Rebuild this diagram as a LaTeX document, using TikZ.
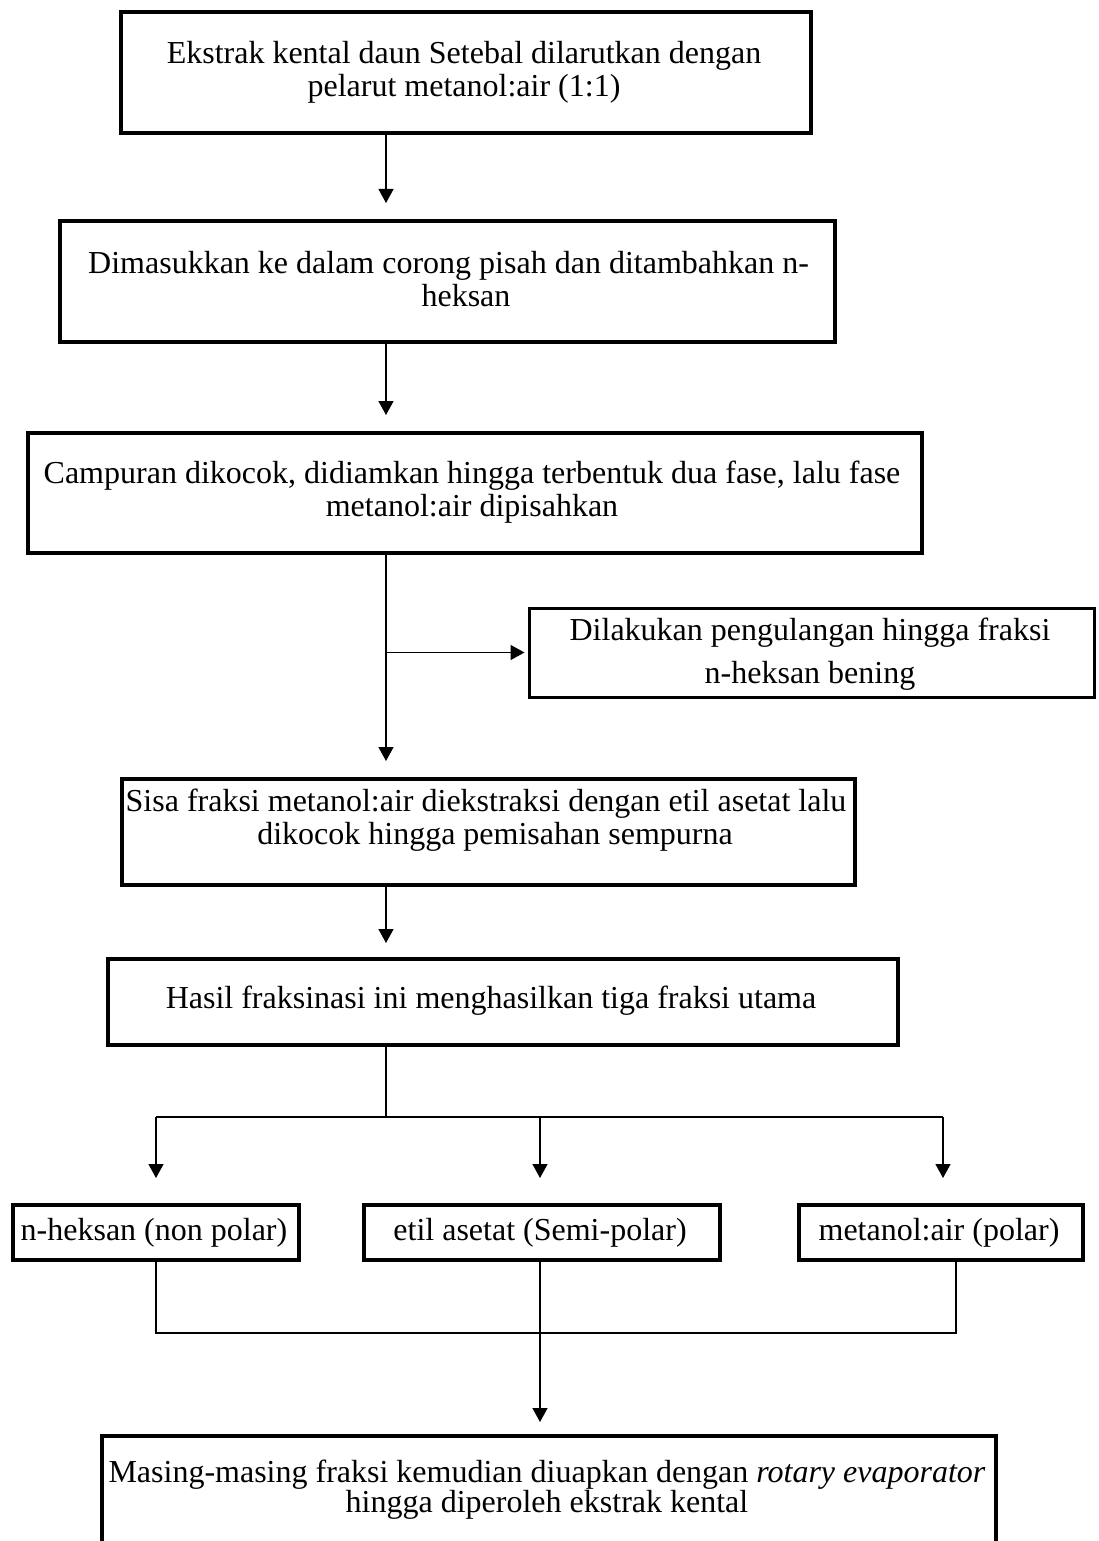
\documentclass[tikz,border=0pt]{standalone}
\usepackage{fontspec}
\setmainfont{Liberation Serif}
\usetikzlibrary{arrows.meta}
\begin{document}
\begin{tikzpicture}[x=1pt,y=-1pt,
  box/.style={draw=black, line width=4pt, inner sep=0pt, anchor=north west},
  sbox/.style={box, line width=3pt},
  txt/.style={anchor=base, inner sep=0pt, font=\fontsize{32}{36}\selectfont},
  conn/.style={line width=1.3pt},
  arr/.style={conn, -{Triangle[length=14pt,width=15pt]}},
]
\useasboundingbox (0,0) rectangle (1098,1541);
\clip (0,0) rectangle (1098,1541);
\fill[white] (0,0) rectangle (1098,1541);
% boxes
\node[box, minimum width=690pt, minimum height=121pt] (b1) at (119,10) {};
\node[box, minimum width=775pt, minimum height=121pt] (b2) at (58,219) {};
\node[box, minimum width=894pt, minimum height=120pt] (b3) at (26,431) {};
\node[sbox, minimum width=565pt, minimum height=89pt] (sb) at (527.5,606.5) {};
\node[box, minimum width=733pt, minimum height=106pt] (b4) at (120,777) {};
\node[box, minimum width=790pt, minimum height=86pt] (b5) at (106,957) {};
\node[box, minimum width=286pt, minimum height=55pt] (n1) at (11,1203) {};
\node[box, minimum width=356pt, minimum height=55pt] (n2) at (362,1203) {};
\node[box, minimum width=284pt, minimum height=55pt] (n3) at (797,1203) {};
\node[box, minimum width=894pt, minimum height=136pt] (fin) at (100,1434) {};
% texts
\node[txt] (t1a) at (464,64) {Ekstrak kental daun Setebal dilarutkan dengan};
\node[txt] (t1b) at (464,97) {pelarut metanol:air (1:1)};
\node[txt, anchor=base west] (t2a) at (88,273) {Dimasukkan ke dalam corong pisah dan ditambahkan n-};
\node[txt] (t2b) at (466,306) {heksan};
\node[txt] (t3a) at (472,483) {Campuran dikocok, didiamkan hingga terbentuk dua fase, lalu fase};
\node[txt] (t3b) at (472,516) {metanol:air dipisahkan};
\node[txt] (tsa) at (810,640) {Dilakukan pengulangan hingga fraksi};
\node[txt] (tsb) at (810,683) {n-heksan bening};
\node[txt] (t4a) at (486,811) {Sisa fraksi metanol:air diekstraksi dengan etil asetat lalu};
\node[txt] (t4b) at (495,844) {dikocok hingga pemisahan sempurna};
\node[txt] (t5) at (491,1008) {Hasil fraksinasi ini menghasilkan tiga fraksi utama};
\node[txt] (tn1) at (154,1240) {n-heksan (non polar)};
\node[txt] (tn2) at (540,1240) {etil asetat (Semi-polar)};
\node[txt] (tn3) at (939,1240) {metanol:air (polar)};
\node[txt] (tfa) at (547,1482) {Masing-masing fraksi kemudian diuapkan dengan \textit{rotary evaporator}};
\node[txt] (tfb) at (547,1512) {hingga diperoleh ekstrak kental};
% connector coordinates
\coordinate (sx) at (386,0);
\coordinate (bl) at (156,1117);
\coordinate (bm) at (540,1117);
\coordinate (bR) at (943,1117);
\coordinate (cl) at (156,1333);
\coordinate (cr) at (956,1333);
% connectors
\draw[arr, shorten >=16pt] (b1.south -| sx) -- (b2.north -| sx);
\draw[arr, shorten >=16pt] (b2.south -| sx) -- (b3.north -| sx);
\draw[arr, shorten >=16pt] (b3.south -| sx) -- (b4.north -| sx);
\draw[arr, shorten >=3pt] (sb.west -| sx) -- (sb.west);
\draw[arr, shorten >=14pt] (b4.south -| sx) -- (b5.north -| sx);
\draw[conn] (b5.south -| sx) -- (bl -| sx);
\draw[conn] (bl) -- (bR);
\draw[arr, shorten >=25pt] (bl) -- (n1.north -| bl);
\draw[arr, shorten >=25pt] (bm) -- (n2.north -| bm);
\draw[arr, shorten >=25pt] (bR) -- (n3.north -| bR);
\draw[conn] (n1.south -| cl) -- (cl) -- (cr) -- (n3.south -| cr);
\draw[arr, shorten >=12pt] (n2.south -| bm) -- (fin.north -| bm);
\end{tikzpicture}
\end{document}
